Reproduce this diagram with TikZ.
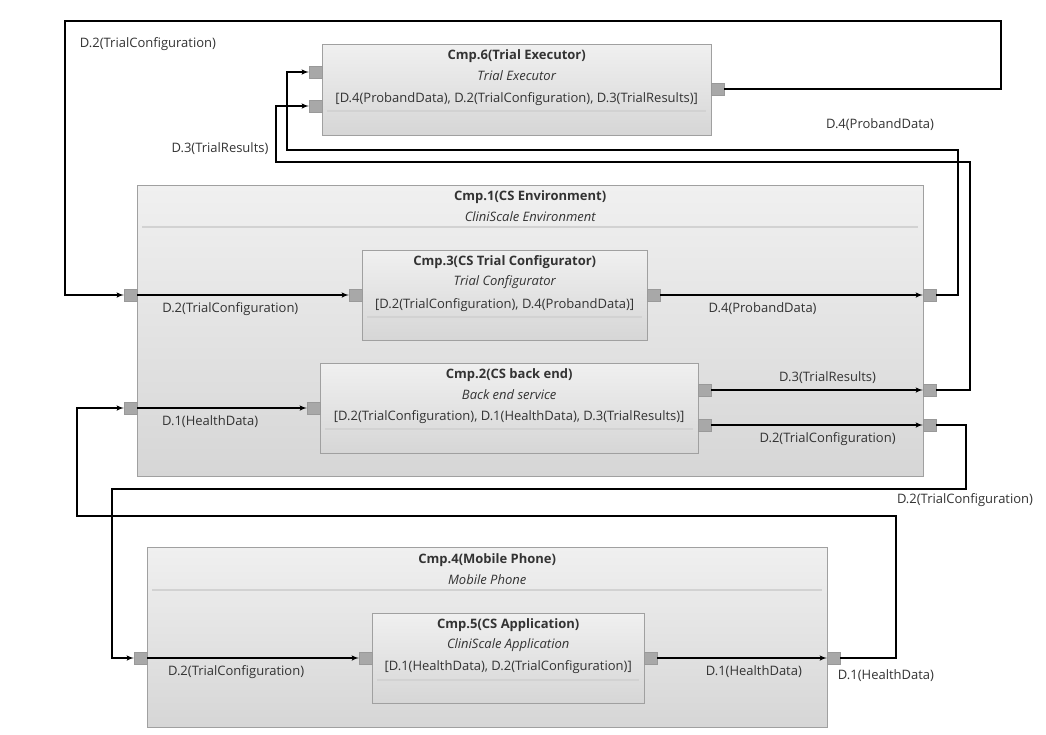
\documentclass[tikz,border=0pt]{standalone}
\usepackage{fontspec}
\setmainfont{Open Sans}
\usetikzlibrary{arrows,calc,positioning}
\definecolor{boxtop}{HTML}{F0F0F0}
\definecolor{boxbot}{HTML}{D6D6D6}
\definecolor{boxline}{HTML}{A0A0A0}
\definecolor{portfill}{HTML}{A8A8A8}
\definecolor{txt}{HTML}{333333}
\tikzstyle{comp} = [rectangle, draw=boxline, top color=boxtop, bottom color=boxbot,
    anchor=north west, inner sep=0pt]
\tikzstyle{port} = [rectangle, draw=gray!80, fill=portfill, minimum width=13pt,
    minimum height=12pt, inner sep=0pt]
\tikzstyle{title} = [font=\fontsize{13}{15}\selectfont\bfseries, text=txt, inner sep=0pt]
\tikzstyle{sub} = [font=\fontsize{13}{15}\selectfont\itshape, text=txt, inner sep=0pt]
\tikzstyle{lbl} = [font=\fontsize{13}{15}\selectfont, text=txt, inner sep=0pt]
\tikzstyle{sep} = [draw=gray!35, line width=1.2pt]
\tikzstyle{flow} = [->, >=latex', line width=1.5pt, black]

\begin{document}
\begin{tikzpicture}[x=1pt,y=-1pt]
  \useasboundingbox (0,0) rectangle (1046,734);

  % components
  \node[comp, minimum width=389pt, minimum height=91pt] (cmp6) at (322,44) {};
  \node[title] (t6) at ($(cmp6.north)+(0,12)$) {Cmp.6(Trial Executor)};
  \node[sub]   (s6) at ($(cmp6.north)+(0,32)$) {Trial Executor};
  \node[lbl]   (d6) at ($(cmp6.north)+(0,55)$) {[D.4(ProbandData), D.2(TrialConfiguration), D.3(TrialResults)]};
  \draw[sep] ($(cmp6.north west)+(5,67)$) -- ($(cmp6.north east)+(-5,67)$);

  \node[comp, minimum width=786pt, minimum height=291pt] (cmp1) at (137,185) {};
  \node[title] (t1) at ($(cmp1.north)+(0,12)$) {Cmp.1(CS Environment)};
  \node[sub]   (s1) at ($(cmp1.north)+(0,32)$) {CliniScale Environment};
  \draw[sep] ($(cmp1.north west)+(5,42)$) -- ($(cmp1.north east)+(-5,42)$);

  \node[comp, minimum width=285pt, minimum height=90pt] (cmp3) at (362,250) {};
  \node[title] (t3) at ($(cmp3.north)+(0,12)$) {Cmp.3(CS Trial Configurator)};
  \node[sub]   (s3) at ($(cmp3.north)+(0,32)$) {Trial Configurator};
  \node[lbl]   (d3) at ($(cmp3.north)+(0,55)$) {[D.2(TrialConfiguration), D.4(ProbandData)]};
  \draw[sep] ($(cmp3.north west)+(5,67)$) -- ($(cmp3.north east)+(-5,67)$);

  \node[comp, minimum width=378pt, minimum height=90pt] (cmp2) at (320,363) {};
  \node[title] (t2) at ($(cmp2.north)+(0,12)$) {Cmp.2(CS back end)};
  \node[sub]   (s2) at ($(cmp2.north)+(0,32)$) {Back end service};
  \node[lbl]   (d2) at ($(cmp2.north)+(0,54)$) {[D.2(TrialConfiguration), D.1(HealthData), D.3(TrialResults)]};
  \draw[sep] ($(cmp2.north west)+(5,66)$) -- ($(cmp2.north east)+(-5,66)$);

  \node[comp, minimum width=680pt, minimum height=180pt] (cmp4) at (147,547) {};
  \node[title] (t4) at ($(cmp4.north)+(0,13)$) {Cmp.4(Mobile Phone)};
  \node[sub]   (s4) at ($(cmp4.north)+(0,33)$) {Mobile Phone};
  \draw[sep] ($(cmp4.north west)+(5,43)$) -- ($(cmp4.north east)+(-5,43)$);

  \node[comp, minimum width=272pt, minimum height=90pt] (cmp5) at (372,613) {};
  \node[title] (t5) at ($(cmp5.north)+(0,12)$) {Cmp.5(CS Application)};
  \node[sub]   (s5) at ($(cmp5.north)+(0,32)$) {CliniScale Application};
  \node[lbl]   (d5) at ($(cmp5.north)+(0,54)$) {[D.1(HealthData), D.2(TrialConfiguration)]};
  \draw[sep] ($(cmp5.north west)+(5,67)$) -- ($(cmp5.north east)+(-5,67)$);

  % ports
  \node[port] (p6a) at (315.5,72) {};
  \node[port] (p6b) at (315.5,106) {};
  \node[port] (p6o) at (717.5,89) {};
  \node[port] (p1a) at (130.5,295) {};
  \node[port] (p1b) at (130.5,408) {};
  \node[port] (p1c) at (929.5,295) {};
  \node[port] (p1d) at (929.5,390) {};
  \node[port] (p1e) at (929.5,425) {};
  \node[port] (p3a) at (355.5,295) {};
  \node[port] (p3o) at (653.5,295) {};
  \node[port] (p2a) at (313.5,408) {};
  \node[port] (p2b) at (704.5,390) {};
  \node[port] (p2c) at (704.5,425) {};
  \node[port] (p4a) at (140.5,658) {};
  \node[port] (p4b) at (833.5,658) {};
  \node[port] (p5a) at (365.5,658) {};
  \node[port] (p5o) at (650.5,658) {};

  % bends
  \coordinate (k1) at (1001,21);
  \coordinate (k2) at (65,21);
  \coordinate (k3) at (958,150);
  \coordinate (k4) at (287,150);
  \coordinate (k5) at (970,162);
  \coordinate (k6) at (276,162);
  \coordinate (k7) at (966,489);
  \coordinate (k8) at (112,489);
  \coordinate (k9) at (896,516);
  \coordinate (k10) at (77,516);

  % flows
  \draw[flow] (p6o) -| (k1) -- (k2) |- (p1a);
  \draw[flow] (p1c) -| (k3) -- (k4) |- (p6a);
  \draw[flow] (p1d) -| (k5) -- (k6) |- (p6b);
  \draw[flow] (p1e) -| (k7) -- (k8) |- (p4a);
  \draw[flow] (p4b) -| (k9) -- (k10) |- (p1b);

  \draw[flow] (p1a) -- node[lbl, below=7pt, pos=0.44] (l4) {D.2(TrialConfiguration)} (p3a);
  \draw[flow] (p3o) -- node[lbl, below=7pt, pos=0.39] (l5) {D.4(ProbandData)} (p1c);
  \draw[flow] (p1b) -- node[lbl, below=7pt, pos=0.43] (l6) {D.1(HealthData)} (p2a);
  \draw[flow] (p2b) -- node[lbl, above=6pt, pos=0.55] (l7) {D.3(TrialResults)} (p1d);
  \draw[flow] (p2c) -- node[lbl, below=7pt, pos=0.55] (l8) {D.2(TrialConfiguration)} (p1e);
  \draw[flow] (p4a) -- node[lbl, below=7pt, pos=0.42] (l9) {D.2(TrialConfiguration)} (p5a);
  \draw[flow] (p5o) -- node[lbl, below=7pt, pos=0.57] (l10) {D.1(HealthData)} (p4b);

  % outer labels
  \node[lbl] (l1) at (148,44) {D.2(TrialConfiguration)};
  \node[lbl] (l2) at (880,125) {D.4(ProbandData)};
  \node[lbl] (l3) at (220,149) {D.3(TrialResults)};
  \node[lbl] (l11) at (965,500) {D.2(TrialConfiguration)};
  \node[lbl] (l12) at (886,676) {D.1(HealthData)};
\end{tikzpicture}
\end{document}
